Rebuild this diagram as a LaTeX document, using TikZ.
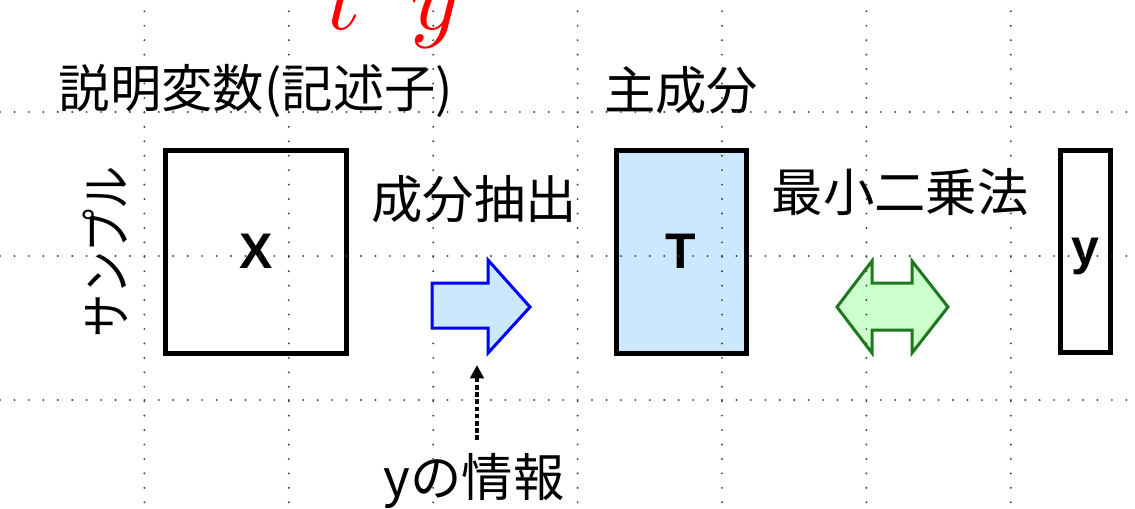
\documentclass[tikz,border=0pt]{standalone}
\usepackage{fontspec}
\usepackage{unicode-math}
\newfontfamily\jp{Noto Sans CJK JP}
\newfontfamily\arl{Liberation Sans}
\usetikzlibrary{arrows.meta}
\begin{document}
\begin{tikzpicture}[x=0.75pt,y=-0.75pt,
  jptext/.style={font=\jp\fontsize{38.5pt}{40pt}\selectfont, inner sep=0pt},
  mat/.style={draw=black, line width=3.75pt, minimum height=151.9pt, inner sep=0pt,
    font=\arl\bfseries\fontsize{37.5pt}{40pt}\selectfont},
  gridline/.style={draw=black!75, line width=1.6pt, line cap=round, dash pattern=on 0pt off 10.83pt},
  blockarrow/.style={line width=2.25pt, line join=miter}]
\useasboundingbox (0,0) rectangle (1135,508);

% matrices
\node[mat, minimum width=136.1pt] (X) at (256.25,251.75) {X};
\node[mat, minimum width=97.5pt, fill={rgb,255:red,204;green,232;blue,255}] (T) at (681,251.75) {T};
\node[mat, minimum width=37.5pt, text depth=0pt] (Y) at (1085.5,251.5) {y};

% labels
\node[jptext] (lx) at (256,91) {説明変数(記述子)};
\node[jptext] (lt) at (681,90) {主成分};
\node[jptext] (lext) at (474,199) {成分抽出};
\node[jptext] (lls) at (900,192) {最小二乗法};
\node[jptext] (linfo) at (474,481) {yの情報};
\node[jptext, rotate=90] (lsmp) at (105,252) {\scalebox{0.84}[1]{サンプル}};
\node[anchor=base west, text=red, inner sep=0pt, font=\fontsize{72pt}{76pt}\selectfont] (ty) at (326,29) {$t^{T}y$};

% block arrows
\draw[blockarrow, draw={rgb,255:red,0;green,0;blue,255}, fill={rgb,255:red,204;green,232;blue,255}]
  (432,283) -- (488,283) -- (488,260) -- (530,307) -- (488,353) -- (488,328) -- (432,328) -- cycle;
\draw[blockarrow, draw={rgb,255:red,30;green,120;blue,30}, fill={rgb,255:red,204;green,255;blue,204}]
  (837,307) -- (872,261) -- (872,283) -- (912,283) -- (912,261) -- (948,307) -- (912,353) -- (912,330) -- (872,330) -- (872,353) -- cycle;

% dotted connector
\coordinate (ds) at (477,440);
\coordinate (de) at (477,365);
\draw[line width=3.6pt, dash pattern=on 3.4pt off 2pt, -{Triangle[length=10pt,width=10pt]}] (ds) -- (de);

% dotted grid on top
\begin{scope}
\clip (0,0) rectangle (1135,508);
\foreach \i in {1,...,7} \draw[gridline] (144.4*\i,-32) -- (144.4*\i,560);
\foreach \j in {0,1,2} \draw[gridline] (0,112+144*\j) -- (1160,112+144*\j);
\end{scope}
\end{tikzpicture}
\end{document}
